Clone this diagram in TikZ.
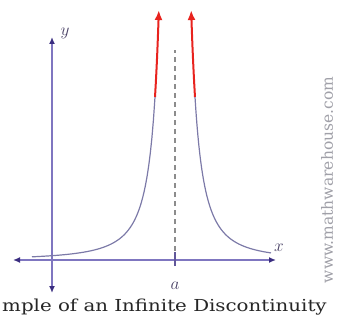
\documentclass[tikz,border=0pt]{standalone}
\usepackage{fontspec}
\newfontfamily\capfont{DejaVu Serif}
\usetikzlibrary{arrows.meta}
\definecolor{AxisBlue}{HTML}{3A2D80}
\definecolor{AxisLav}{HTML}{7F76C0}
\definecolor{CurveGray}{HTML}{7C7AA8}
\definecolor{AsymRed}{HTML}{E8231E}
\definecolor{DashGray}{HTML}{8C8C8C}
\definecolor{MarkGray}{HTML}{A0A0A8}
\definecolor{LabelInk}{HTML}{4A4266}
\tikzset{
  axisline/.style={draw=AxisLav, line width=1.5pt,
    {Latex[length=7pt,width=6pt,color=AxisBlue]}-{Latex[length=7pt,width=6pt,color=AxisBlue]}},
  curveline/.style={draw=CurveGray, line width=1.2pt},
  blowup/.style={draw=AsymRed, line width=2pt, -{Latex[length=10pt,width=8pt]}},
  axislabel/.style={text=LabelInk, font=\fontsize{17}{17}\selectfont, inner sep=0pt},
}

\begin{document}
\begin{tikzpicture}[x=1pt, y=1pt]
  \useasboundingbox (0,0) rectangle (343,322);
  \clip (0,0) rectangle (343,322);

  % axes
  \coordinate (xl) at (13,62);
  \coordinate (xr) at (276,62);
  \coordinate (yb) at (52,29);
  \coordinate (yt) at (52,285);
  \draw[axisline] (xl) -- (xr);
  \draw[axisline] (yb) -- (yt);

  % asymptote at x = a
  \coordinate (atop) at (175,272);
  \coordinate (abot) at (175,62);
  \draw[DashGray, line width=1.2pt, dash pattern=on 5pt off 4pt] (abot) -- (atop);
  \draw[AxisBlue!80, line width=1.2pt] (175,56) -- (175,70);

  % the two branches
  \draw[curveline] plot[domain=14.3:2, samples=80, variable=\t]
    ({175-10*\t},{62+652/(\t*\t)});
  \draw[curveline] plot[domain=2:9.6, samples=80, variable=\t]
    ({175+10*\t},{62+652/(\t*\t)});
  \draw[blowup] plot[domain=2:1.615, samples=12, variable=\t]
    ({175-10*\t},{62+652/(\t*\t)});
  \draw[blowup] plot[domain=2:1.615, samples=12, variable=\t]
    ({175+10*\t},{62+652/(\t*\t)});

  \node[axislabel] (ylab) at (65,289) {$y$};
  \node[axislabel] (xlab) at (279,74) {$x$};
  \node[axislabel] (alab) at (175,36) {$a$};

  \node[anchor=base west, text=black!85, xscale=1.2, transform shape,
    inner sep=0pt, font=\capfont\fontsize{16.5}{18}\selectfont]
    (cap) at (2,11) {mple of an Infinite Discontinuity};
  \node[rotate=90, text=MarkGray, font=\capfont\fontsize{15.5}{16}\selectfont]
    (mark) at (327,142) {www.mathwarehouse.com};
\end{tikzpicture}
\end{document}
